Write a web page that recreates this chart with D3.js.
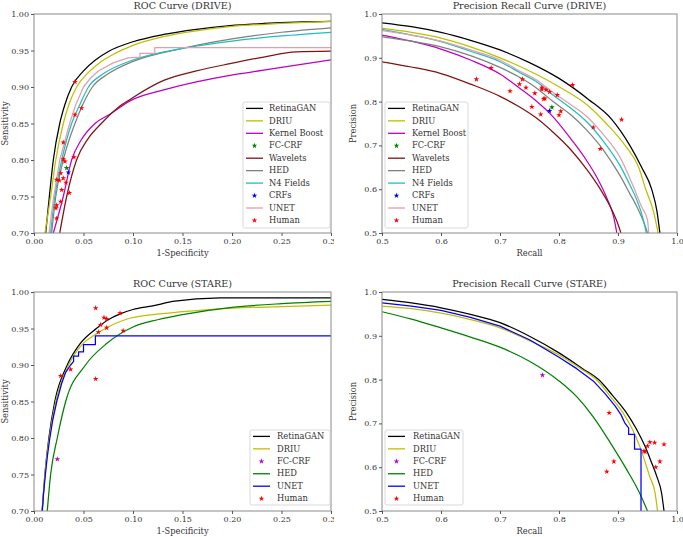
<!DOCTYPE html>
<html><head><meta charset="utf-8">
<script src="https://cdn.jsdelivr.net/npm/d3@7"></script>
<style>
body{margin:0;background:#fff}
svg{display:block}
text{font-family:"DejaVu Serif",serif;fill:#333}
</style>
</head><body>
<svg id="c" width="683" height="537"></svg>
<script>
// ---------------- DATA ----------------
// ROC (DRIVE)  [1-specificity, sensitivity]
const rocDriveRetinaGAN = [[0.0118,0.70],[0.0155,0.75],[0.0195,0.80],[0.026,0.85],[0.031,0.875],[0.038,0.90],[0.05,0.922],[0.062,0.937],[0.0756,0.949],[0.1,0.962],[0.131,0.972],[0.164,0.979],[0.198,0.984],[0.232,0.987],[0.265,0.989],[0.3,0.990]];
const rocDriveDRIU = [[0.0111,0.70],[0.0168,0.75],[0.022,0.80],[0.0296,0.85],[0.035,0.875],[0.043,0.90],[0.055,0.92],[0.068,0.935],[0.082,0.946],[0.1,0.957],[0.131,0.969],[0.164,0.977],[0.2,0.983],[0.25,0.987],[0.3,0.990]];
const rocDriveKernelBoost = [[0.0195,0.70],[0.0296,0.75],[0.038,0.80],[0.047,0.826],[0.0616,0.85],[0.077,0.863],[0.097,0.881],[0.131,0.896],[0.164,0.907],[0.198,0.916],[0.232,0.923],[0.265,0.930],[0.3,0.937]];
const rocDriveWavelets = [[0.026,0.70],[0.033,0.75],[0.043,0.80],[0.055,0.83],[0.068,0.85],[0.085,0.872],[0.097,0.883],[0.131,0.909],[0.164,0.922],[0.198,0.932],[0.232,0.941],[0.265,0.948],[0.3,0.949]];
const rocDriveHED = [[0.0178,0.70],[0.022,0.75],[0.0296,0.80],[0.0414,0.85],[0.049,0.875],[0.059,0.90],[0.075,0.918],[0.1,0.935],[0.15,0.953],[0.2,0.966],[0.25,0.975],[0.3,0.981]];
const rocDriveN4 = [[0.0168,0.70],[0.021,0.75],[0.028,0.80],[0.038,0.85],[0.046,0.875],[0.055,0.90],[0.07,0.918],[0.1,0.937],[0.15,0.953],[0.2,0.963],[0.25,0.970],[0.3,0.975]];
const rocDriveUNET = [[0.0152,0.70],[0.0175,0.725],[0.020,0.75],[0.023,0.775],[0.026,0.80],[0.031,0.825],[0.036,0.85],[0.042,0.875],[0.050,0.90],[0.057,0.912],[0.065,0.922],[0.08,0.933],[0.095,0.940],[0.107,0.941],[0.107,0.946],[0.122,0.946],[0.122,0.954],[0.3,0.954]];
const rocDriveFCCRF = [[0.033,0.789]];
const rocDriveCRFs = [[0.0347,0.783]];
const rocDriveHuman = [[0.0414,0.907],[0.048,0.871],[0.0414,0.862],[0.0296,0.824],[0.0404,0.804],[0.0296,0.801],[0.0313,0.798],[0.027,0.782],[0.0229,0.773],[0.0256,0.772],[0.0296,0.775],[0.0323,0.769],[0.028,0.759],[0.0357,0.755],[0.027,0.743],[0.0229,0.738],[0.0222,0.734],[0.0229,0.72]];

// Precision-Recall (DRIVE)  [recall, precision]
const prDriveRetinaGAN = [[0.5,0.980],[0.55,0.971],[0.6,0.958],[0.65,0.940],[0.7,0.918],[0.75,0.889],[0.8,0.853],[0.85,0.805],[0.889,0.76],[0.92,0.70],[0.94,0.65],[0.957,0.60],[0.966,0.55],[0.971,0.50]];
const prDriveDRIU = [[0.5,0.967],[0.55,0.958],[0.6,0.945],[0.65,0.925],[0.7,0.90],[0.75,0.87],[0.8,0.834],[0.85,0.79],[0.88,0.75],[0.912,0.70],[0.935,0.65],[0.947,0.60],[0.96,0.55],[0.968,0.50]];
const prDriveKernelBoost = [[0.5,0.952],[0.55,0.938],[0.6,0.920],[0.65,0.895],[0.7,0.863],[0.734,0.83],[0.76,0.803],[0.79,0.765],[0.82,0.715],[0.847,0.665],[0.865,0.625],[0.881,0.58],[0.893,0.535],[0.898,0.50]];
const prDriveWavelets = [[0.5,0.891],[0.55,0.879],[0.6,0.864],[0.65,0.840],[0.7,0.812],[0.734,0.787],[0.76,0.764],[0.79,0.730],[0.82,0.69],[0.847,0.645],[0.87,0.60],[0.887,0.56],[0.9,0.52],[0.905,0.50]];
const prDriveHED = [[0.5,0.948],[0.55,0.938],[0.6,0.925],[0.65,0.905],[0.7,0.878],[0.734,0.855],[0.76,0.833],[0.79,0.80],[0.82,0.77],[0.847,0.735],[0.875,0.69],[0.903,0.632],[0.92,0.59],[0.932,0.56],[0.945,0.52],[0.95,0.50]];
const prDriveN4 = [[0.5,0.965],[0.55,0.952],[0.6,0.937],[0.65,0.915],[0.7,0.891],[0.734,0.866],[0.76,0.847],[0.79,0.815],[0.82,0.785],[0.847,0.754],[0.875,0.71],[0.903,0.655],[0.92,0.61],[0.932,0.575],[0.943,0.53],[0.948,0.50]];
const prDriveUNET = [[0.5,0.962],[0.55,0.952],[0.6,0.938],[0.65,0.918],[0.7,0.895],[0.734,0.869],[0.76,0.851],[0.79,0.821],[0.82,0.793],[0.847,0.766],[0.875,0.725],[0.903,0.674],[0.926,0.606],[0.94,0.56],[0.95,0.53],[0.952,0.50]];
const prDriveFCCRF = [[0.788,0.787]];
const prDriveCRFs = [[0.784,0.779]];
const prDriveHuman = [[0.660,0.851],[0.685,0.877],[0.717,0.824],[0.733,0.840],[0.738,0.851],[0.744,0.832],[0.759,0.819],[0.754,0.788],[0.769,0.771],[0.771,0.832],[0.771,0.828],[0.774,0.806],[0.776,0.807],[0.778,0.827],[0.784,0.822],[0.797,0.815],[0.80,0.769],[0.803,0.778],[0.823,0.838],[0.858,0.741],[0.870,0.692],[0.906,0.759]];

// ROC (STARE)
const rocStareRetinaGAN = [[0.0082,0.70],[0.011,0.75],[0.015,0.80],[0.021,0.85],[0.0336,0.90],[0.047,0.93],[0.063,0.95],[0.075,0.962],[0.087,0.970],[0.10,0.976],[0.12,0.981],[0.14,0.987],[0.188,0.992],[0.3,0.992]];
const rocStareDRIU = [[0.0082,0.70],[0.011,0.75],[0.0155,0.80],[0.022,0.85],[0.035,0.90],[0.05,0.93],[0.06,0.94],[0.072,0.95],[0.094,0.963],[0.12,0.969],[0.15,0.973],[0.2,0.978],[0.25,0.980],[0.3,0.982]];
const rocStareHED = [[0.0134,0.70],[0.0168,0.75],[0.0235,0.80],[0.032,0.85],[0.052,0.90],[0.074,0.93],[0.10,0.952],[0.125,0.962],[0.15,0.969],[0.2,0.979],[0.25,0.984],[0.3,0.987]];
const rocStareUNET = [[0.0084,0.70],[0.0097,0.725],[0.0115,0.75],[0.0135,0.775],[0.016,0.80],[0.019,0.825],[0.023,0.85],[0.028,0.875],[0.032,0.89],[0.037,0.90],[0.040,0.905],[0.040,0.912],[0.045,0.912],[0.045,0.918],[0.050,0.918],[0.050,0.928],[0.062,0.928],[0.062,0.94],[0.3,0.94]];
const rocStareFCCRF = [[0.0236,0.771]];
const rocStareHuman = [[0.0623,0.978],[0.0707,0.965],[0.0734,0.963],[0.0673,0.955],[0.0869,0.971],[0.0734,0.951],[0.065,0.945],[0.090,0.947],[0.027,0.885],[0.037,0.894],[0.0623,0.881]];

// Precision-Recall (STARE)
const prStareRetinaGAN = [[0.5,0.983],[0.55,0.975],[0.6,0.964],[0.65,0.949],[0.7,0.930],[0.75,0.899],[0.8,0.861],[0.84,0.825],[0.868,0.799],[0.89,0.765],[0.915,0.723],[0.93,0.69],[0.946,0.647],[0.957,0.61],[0.966,0.578],[0.974,0.540],[0.978,0.50]];
const prStareDRIU = [[0.5,0.968],[0.55,0.962],[0.6,0.952],[0.65,0.937],[0.7,0.918],[0.75,0.889],[0.8,0.856],[0.84,0.822],[0.864,0.799],[0.888,0.76],[0.909,0.723],[0.925,0.685],[0.937,0.647],[0.954,0.578],[0.963,0.54],[0.967,0.50]];
const prStareHED = [[0.5,0.955],[0.55,0.938],[0.6,0.918],[0.65,0.897],[0.7,0.874],[0.75,0.842],[0.8,0.797],[0.83,0.761],[0.858,0.715],[0.886,0.658],[0.915,0.594],[0.937,0.54],[0.95,0.50]];
const prStareUNET = [[0.5,0.975],[0.55,0.968],[0.6,0.958],[0.65,0.942],[0.7,0.922],[0.75,0.891],[0.8,0.851],[0.83,0.825],[0.858,0.797],[0.878,0.768],[0.895,0.74],[0.905,0.72],[0.912,0.70],[0.918,0.69],[0.918,0.675],[0.928,0.675],[0.928,0.641],[0.939,0.641],[0.939,0.50]];
const prStareFCCRF = [[0.772,0.810]];
const prStareHuman = [[0.885,0.724],[0.893,0.613],[0.881,0.590],[0.944,0.637],[0.946,0.635],[0.950,0.648],[0.954,0.657],[0.962,0.656],[0.978,0.652],[0.971,0.613],[0.964,0.600]];

// Axis ticks
const rocXTicks = [0,0.05,0.10,0.15,0.20,0.25,0.30];
const rocXLabels = ["0.00","0.05","0.10","0.15","0.20","0.25","0.30"];
const rocYTicks = [0.70,0.75,0.80,0.85,0.90,0.95,1.00];
const rocYLabels = ["0.70","0.75","0.80","0.85","0.90","0.95","1.00"];
const prTicks = [0.5,0.6,0.7,0.8,0.9,1.0];
const prLabels = ["0.5","0.6","0.7","0.8","0.9","1.0"];

// ---------------- STYLE ----------------
const C = {black:"#000000", yellow:"#bfbf00", magenta:"#bf00bf", green:"#008000", maroon:"#7f1414",
  gray:"#808080", cyan:"#1fbfbf", blue:"#0000ff", pink:"#df9fab", red:"#ff0000"};

const svg = d3.select("#c");
svg.append("rect").attr("width",683).attr("height",537).attr("fill","#fff");

function drawPanel(cfg){
  const g = svg.append("g");
  if (cfg.clipRight){
    const cid = "pc"+cfg.id;
    svg.append("clipPath").attr("id",cid).append("rect").attr("x",0).attr("y",cfg.top-20).attr("width",cfg.clipRight).attr("height",cfg.bottom-cfg.top+50);
    g.attr("clip-path",`url(#${cid})`);
  }
  const x = d3.scaleLinear().domain(cfg.xdom).range([cfg.left,cfg.right]);
  const y = d3.scaleLinear().domain(cfg.ydom).range([cfg.bottom,cfg.top]);
  const clipId = "clip"+cfg.id;
  svg.append("clipPath").attr("id",clipId).append("rect")
    .attr("x",cfg.left).attr("y",cfg.top).attr("width",cfg.right-cfg.left).attr("height",cfg.bottom-cfg.top);
  const plot = g.append("g").attr("clip-path",`url(#${clipId})`);
  cfg.series.forEach(s=>{
    if (s.type==="line"){
      const line = d3.line().x(d=>x(d[0])).y(d=>y(d[1])).curve(s.linear?d3.curveLinear:d3.curveMonotoneX);
      plot.append("path").datum(s.data).attr("d",line).attr("fill","none")
        .attr("stroke",s.color).attr("stroke-width",1.25).attr("stroke-linejoin","round");
    }
  });
  const sym = d3.symbol(d3.symbolStar).size(10);
  cfg.series.forEach(s=>{
    if (s.type==="star"){
      g.append("g").selectAll("path").data(s.data).join("path")
        .attr("d",sym).attr("transform",d=>`translate(${x(d[0])},${y(d[1])})`)
        .attr("fill",s.color);
    }
  });
  // frame
  g.append("rect").attr("x",cfg.left).attr("y",cfg.top).attr("width",cfg.right-cfg.left).attr("height",cfg.bottom-cfg.top)
    .attr("fill","none").attr("stroke","#8a8a8a").attr("stroke-width",1);
  // axes
  const xa = g.append("g").attr("transform",`translate(0,${cfg.bottom})`)
    .call(d3.axisBottom(x).tickValues(cfg.xticks).tickFormat((d,i)=>cfg.xlabels[i]).tickSize(3).tickPadding(2.5));
  const ya = g.append("g").attr("transform",`translate(${cfg.left},0)`)
    .call(d3.axisLeft(y).tickValues(cfg.yticks).tickFormat((d,i)=>cfg.ylabels[i]).tickSize(3).tickPadding(2));
  [xa,ya].forEach(a=>{
    a.select(".domain").remove();
    a.selectAll(".tick line").attr("stroke","#555");
    a.selectAll(".tick text").attr("font-family","DejaVu Serif").attr("font-size","8px").attr("fill","#333");
  });
  // title and labels
  g.append("text").attr("x",(cfg.left+cfg.right)/2).attr("y",cfg.top-5).attr("text-anchor","middle")
    .attr("font-size","9.6px").text(cfg.title);
  g.append("text").attr("x",(cfg.left+cfg.right)/2).attr("y",cfg.bottom+22.5).attr("text-anchor","middle")
    .attr("font-size","8.3px").text(cfg.xlabel);
  g.append("text").attr("transform",`translate(${cfg.left-26},${(cfg.top+cfg.bottom)/2}) rotate(-90)`)
    .attr("text-anchor","middle").attr("font-size","8.3px").text(cfg.ylabel);
  // legend
  const L = cfg.legend;
  g.append("rect").attr("x",L.x).attr("y",L.y).attr("width",L.w).attr("height",L.h).attr("rx",2)
    .attr("fill","#fff").attr("fill-opacity",0.85).attr("stroke","#cfcfcf").attr("stroke-width",0.8);
  cfg.series.forEach((s,i)=>{
    const ry = L.y+6.4+i*12.45;
    if (s.type==="line"){
      g.append("line").attr("x1",L.x+3).attr("x2",L.x+20).attr("y1",ry).attr("y2",ry)
        .attr("stroke",s.color).attr("stroke-width",1.3);
    } else {
      g.append("path").attr("d",sym).attr("transform",`translate(${L.x+11.5},${ry})`).attr("fill",s.color);
    }
    g.append("text").attr("x",L.x+L.tx).attr("y",ry).attr("dy","0.33em").attr("font-size","8.3px").text(s.name);
  });
}

const driveSeries = (rg,driu,kb,fc,wav,hed,n4,crf,unet,hum,stepUnet)=>[
  {name:"RetinaGAN",type:"line",color:C.black,data:rg},
  {name:"DRIU",type:"line",color:C.yellow,data:driu},
  {name:"Kernel Boost",type:"line",color:C.magenta,data:kb},
  {name:"FC-CRF",type:"star",color:C.green,data:fc},
  {name:"Wavelets",type:"line",color:C.maroon,data:wav},
  {name:"HED",type:"line",color:C.gray,data:hed},
  {name:"N4 Fields",type:"line",color:C.cyan,data:n4},
  {name:"CRFs",type:"star",color:C.blue,data:crf},
  {name:"UNET",type:"line",color:C.pink,data:unet,linear:stepUnet},
  {name:"Human",type:"star",color:C.red,data:hum}
];
const stareSeries = (rg,driu,fc,hed,unet,hum)=>[
  {name:"RetinaGAN",type:"line",color:C.black,data:rg},
  {name:"DRIU",type:"line",color:C.yellow,data:driu},
  {name:"FC-CRF",type:"star",color:C.magenta,data:fc},
  {name:"HED",type:"line",color:C.green,data:hed},
  {name:"UNET",type:"line",color:C.blue,data:unet,linear:true},
  {name:"Human",type:"star",color:C.red,data:hum}
];

drawPanel({id:1,left:34,right:331,top:14,bottom:233,xdom:[0,0.3],ydom:[0.7,1.0],clipRight:334,
  xticks:rocXTicks,xlabels:rocXLabels,yticks:rocYTicks,ylabels:rocYLabels,
  title:"ROC Curve (DRIVE)",xlabel:"1-Specificity",ylabel:"Sensitivity",
  legend:{x:243,y:102,w:87,h:126,tx:26},
  series:driveSeries(rocDriveRetinaGAN,rocDriveDRIU,rocDriveKernelBoost,rocDriveFCCRF,rocDriveWavelets,rocDriveHED,rocDriveN4,rocDriveCRFs,rocDriveUNET,rocDriveHuman,true)});

drawPanel({id:2,left:382,right:677,top:14,bottom:233,xdom:[0.5,1.0],ydom:[0.5,1.0],
  xticks:prTicks,xlabels:prLabels,yticks:prTicks,ylabels:prLabels,
  title:"Precision Recall Curve (DRIVE)",xlabel:"Recall",ylabel:"Precision",
  legend:{x:385,y:102,w:83,h:126,tx:27},
  series:driveSeries(prDriveRetinaGAN,prDriveDRIU,prDriveKernelBoost,prDriveFCCRF,prDriveWavelets,prDriveHED,prDriveN4,prDriveCRFs,prDriveUNET,prDriveHuman,false)});

drawPanel({id:3,left:34,right:331,top:292,bottom:511,xdom:[0,0.3],ydom:[0.7,1.0],clipRight:334,
  xticks:rocXTicks,xlabels:rocXLabels,yticks:rocYTicks,ylabels:rocYLabels,
  title:"ROC Curve (STARE)",xlabel:"1-Specificity",ylabel:"Sensitivity",
  legend:{x:250,y:430,w:80,h:75,tx:27},
  series:stareSeries(rocStareRetinaGAN,rocStareDRIU,rocStareFCCRF,rocStareHED,rocStareUNET,rocStareHuman)});

drawPanel({id:4,left:382,right:677,top:292,bottom:511,xdom:[0.5,1.0],ydom:[0.5,1.0],
  xticks:prTicks,xlabels:prLabels,yticks:prTicks,ylabels:prLabels,
  title:"Precision Recall Curve (STARE)",xlabel:"Recall",ylabel:"Precision",
  legend:{x:385,y:430,w:78,h:75,tx:28},
  series:stareSeries(prStareRetinaGAN,prStareDRIU,prStareFCCRF,prStareHED,prStareUNET,prStareHuman)});
</script>
</body></html>
